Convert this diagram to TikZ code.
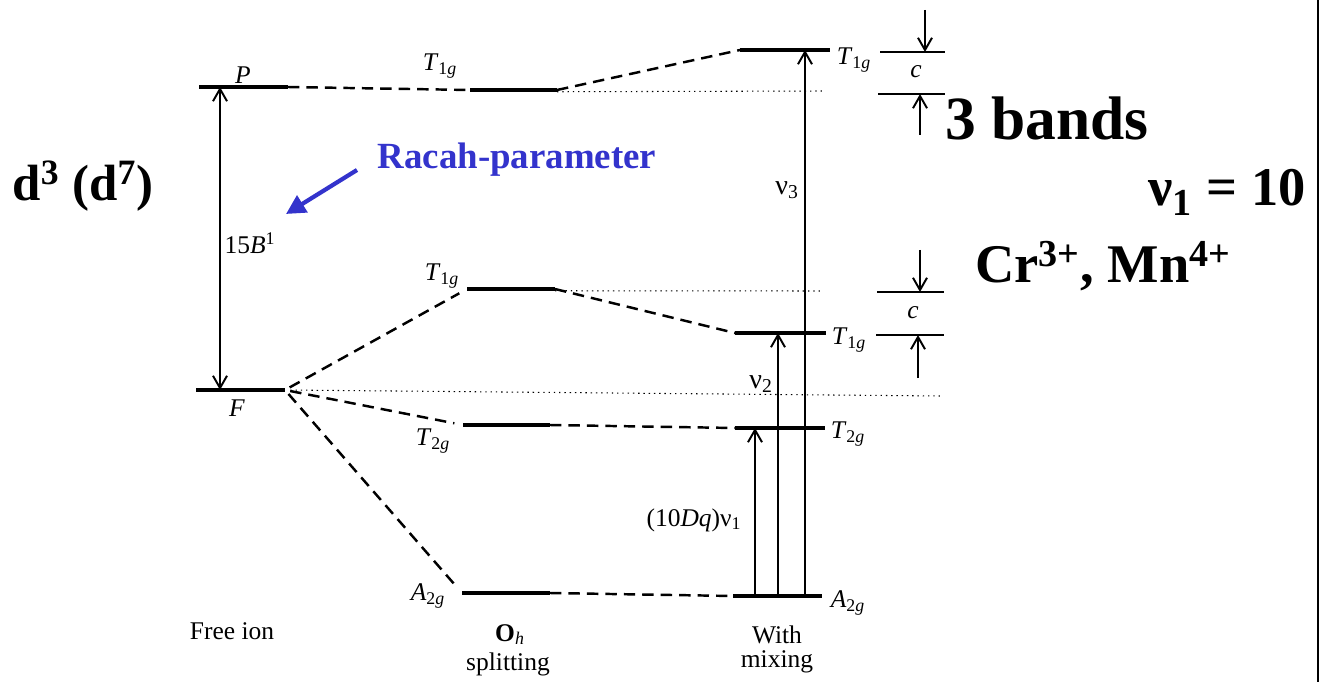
\documentclass[tikz,border=0pt]{standalone}
\usepackage{fontspec}
\setmainfont{Liberation Serif}
\usetikzlibrary{arrows.meta}
\definecolor{racahblue}{RGB}{51,51,204}
\newcommand{\term}[2]{\textit{#1}\textsubscript{#2\textit{g}}}
\begin{document}
\begin{tikzpicture}[
  x=0.02cm, y=-0.02cm,
  >={Straight Barb[length=7pt,width=8pt]},
  every node/.style={font=\fontsize{14.5}{16}\selectfont, inner sep=1pt},
  level/.style={line width=2.2pt},
  link/.style={line width=1.4pt, dash pattern=on 6.5pt off 4pt},
  guide/.style={line width=0.6pt, dash pattern=on 0.8pt off 2.2pt},
  trans/.style={line width=1.1pt, ->},
  gapbar/.style={line width=1.1pt},
  big/.style={font=\fontsize{31}{36}\selectfont\bfseries, inner sep=0pt}
]
\useasboundingbox (0,0) rectangle (1322,682);

% energy levels: free ion, O_h, with mixing
\foreach \n/\xa/\xb/\y in {P/199/288/87, F/196/285/390,
    T1o/470/557/90, T1m/467/555/289, T2o/463/550/425, A2o/462/550/593,
    T1r/740/830/50, T1s/735/826/333, T2r/735/825/428, A2r/733/822/596} {
  \coordinate (\n-a) at (\xa,\y);
  \coordinate (\n-b) at (\xb,\y);
  \draw[level] (\n-a) -- (\n-b);
}

% correlation lines
\draw[link] (P-b) -- (T1o-a);
\foreach \t in {T1m, T2o, A2o}
  \draw[link, shorten <=3pt, shorten >=5pt] (F-b) -- (\t-a);
\foreach \s/\t in {T1o/T1r, T1m/T1s, T2o/T2r, A2o/A2r}
  \draw[link] (\s-b) -- (\t-a);

% dotted guides
\coordinate (g1) at (822,91);
\coordinate (g2) at (822,291);
\coordinate (g3) at (940,396);
\draw[guide] ([yshift=-1pt]T1o-b) -- (g1);
\draw[guide] ([yshift=-1pt]T1m-b) -- (g2);
\draw[guide, shorten <=3pt] (F-b) -- (g3);

% P -- F separation
\coordinate (gP) at (220,87);
\coordinate (gF) at (220,390);
\draw[line width=1.1pt, <->] (gF) -- (gP);
\node (b15) at (250,243) {15\textit{B}\textsuperscript{1}};

% transitions
\foreach \n/\x/\top in {v1/755/428, v2/778/333, v3/805/50} {
  \coordinate (\n-f) at (\x,596);
  \coordinate (\n-h) at (\x,\top);
  \draw[trans] (\n-f) -- (\n-h);
}
\node (l1) at (694,520) {(10\textit{Dq})ν\textsubscript{1}};
\node[font=\fontsize{16}{18}\selectfont] (l2) at (761,384) {ν\textsubscript{2}};
\node[font=\fontsize{16}{18}\selectfont] (l3) at (787,190) {ν\textsubscript{3}};

% c gaps
\foreach \n/\xa/\xb/\y in {ca/880/945/52, cb/878/945/94, cc/877/944/292, cd/876/944/335} {
  \coordinate (\n-a) at (\xa,\y);
  \coordinate (\n-b) at (\xb,\y);
  \draw[gapbar] (\n-a) -- (\n-b);
}
\foreach \n/\x/\ya/\yb in {ka/925/10/52, kb/920/135/94, kc/920/250/292, kd/918/378/335} {
  \coordinate (\n-t) at (\x,\ya);
  \coordinate (\n-h) at (\x,\yb);
  \draw[trans] (\n-t) -- (\n-h);
}
\node (c1) at (916,72) {\textit{c}};
\node (c2) at (913,313) {\textit{c}};

% term labels
\node (lP) at (243,75) {\textit{P}};
\node (lF) at (237,408) {\textit{F}};
\node (t1) at (440,66) {\term{T}{1}};
\node (t2) at (442,276) {\term{T}{1}};
\node (t3) at (433,441) {\term{T}{2}};
\node (t4) at (428,596) {\term{A}{2}};
\node (t5) at (854,60) {\term{T}{1}};
\node (t6) at (849,340) {\term{T}{1}};
\node (t7) at (848,434) {\term{T}{2}};
\node (t8) at (848,603) {\term{A}{2}};

% column titles
\node[anchor=base] (free) at (232,639) {Free ion};
\node[anchor=base, inner sep=0pt] (oh) at (510,641) {\textbf{O}\textsubscript{\textit{h}}};
\node[anchor=base, inner sep=0pt] (split) at (508,670) {splitting};
\node[anchor=base] (with) at (777,643) {With};
\node[anchor=base] (mix) at (777,667) {mixing};

% slide annotations
\node[big, font=\fontsize{29}{34}\selectfont\bfseries] (conf) at (83,186) {d\textsuperscript{3} (d\textsuperscript{7})};
\node[font=\fontsize{21}{24}\selectfont\bfseries, text=racahblue] (racah) at (517,160) {Racah-parameter};
\coordinate (ra-t) at (357,170);
\coordinate (ra-h) at (286,214);
\draw[racahblue, line width=2.4pt, -{Triangle[length=11pt,width=11pt]}] (ra-t) -- (ra-h);
\node[big, font=\fontsize{35}{40}\selectfont\bfseries, anchor=west] (bands) at (945,118) {3 bands};
\node[big, anchor=east] (nu1) at (1306,192) {ν\textsubscript{1} = 10};
\node[big, anchor=west] (ions) at (975,266) {Cr\textsuperscript{3+},  Mn\textsuperscript{4+}};

\coordinate (edge-t) at (1318,0);
\coordinate (edge-b) at (1318,682);
\draw[line width=1.6pt] (edge-t) -- (edge-b);
\end{tikzpicture}
\end{document}
